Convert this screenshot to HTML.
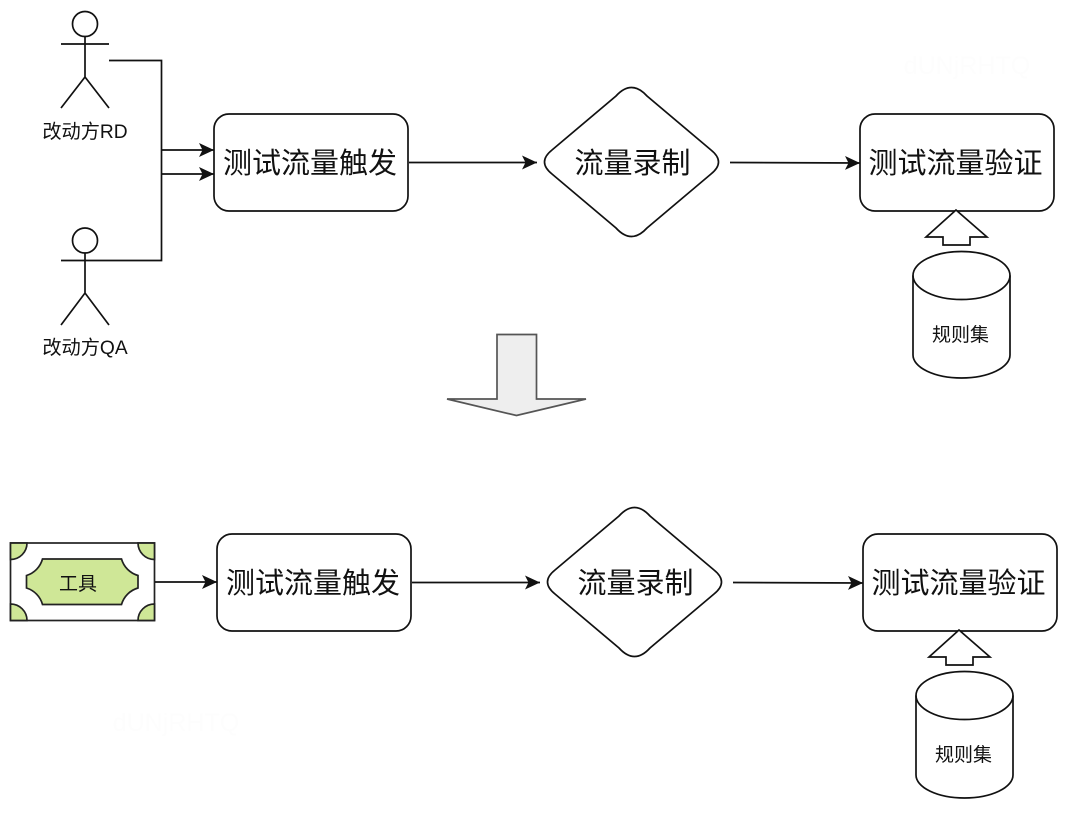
<!DOCTYPE html>
<html><head><meta charset="utf-8"><style>
html,body{margin:0;padding:0;background:#fff}
svg{display:block;filter:blur(.35px)}
text{font-family:"Liberation Sans","Noto Sans CJK SC",sans-serif;fill:#111;text-anchor:middle}
.l{fill:none;stroke:#111;stroke-width:1.7}
.s{fill:#fff;stroke:#111;stroke-width:1.7}
.g{fill:#cfe797;stroke:#222;stroke-width:1.7}
.t{font-size:29px}.m{font-size:19.2px}
.w{font-size:25px;fill:#fdfdfd}
</style></head><body>
<svg width="1080" height="820" viewBox="0 0 1080 820" xmlns="http://www.w3.org/2000/svg">
<defs>
<marker id="a" markerUnits="userSpaceOnUse" markerWidth="16" markerHeight="16" refX="15" refY="7.500" orient="auto"><path d="M0 0.500L15 7.500L0 14.500L3.500 7.500Z" fill="#111"/></marker>
<g id="flow">
<rect class="s" x="214" y="114" width="194" height="97" rx="15"/>
<text class="t" x="310" y="173">测试流量触发</text>
<path class="l" d="M409 162.500H537" marker-end="url(#a)"/>
<path class="s" d="M616 96Q631.500 79 647 96L711 150Q726 162 711 174L647 228Q631.500 245 616 228L552 174Q537 162 552 150Z"/>
<text class="t" x="632.500" y="173">流量录制</text>
<path class="l" d="M730 162.500L860 163" marker-end="url(#a)"/>
<rect class="s" x="860" y="114" width="194" height="97" rx="15"/>
<text class="t" x="955.500" y="173">测试流量验证</text>
<path class="s" d="M956 210L987 237H970V245H943V237H926Z"/>
<path class="s" d="M913 275.500A48.500 24 0 0 1 1010 275.500V355A48.500 23 0 0 1 913 355Z"/>
<path class="l" d="M913 275.500A48.500 24 0 0 0 1010 275.500"/>
<text x="960.500" y="341" font-size="19">规则集</text>
</g>
</defs>

<circle class="l" cx="85" cy="24" r="12.500"/>
<path class="l" d="M85 36.500V77M61 44H109M61 108L85 77L109 108"/>
<text class="m" x="85" y="138">改动方RD</text>
<circle class="l" cx="85" cy="240.500" r="12.500"/>
<path class="l" d="M85 253V293M61 325L85 293L109 325"/>
<text class="m" x="85" y="354">改动方QA</text>

<path class="l" d="M109 60.500H161.500V260.500H61"/>
<path class="l" d="M161.500 150H214" marker-end="url(#a)"/>
<path class="l" d="M161.500 174H214" marker-end="url(#a)"/>

<use href="#flow"/>
<use href="#flow" x="3" y="420"/>

<path d="M497 334.500H536.500V399H586L516.500 415.500L447 399H497Z" fill="#eeeeee" stroke="#555" stroke-width="1.700"/>

<rect x="10.500" y="543" width="144" height="77.500" fill="#fff" stroke="#222" stroke-width="1.700"/>
<path class="g" d="M10.500 543H27A16.500 16.500 0 0 1 10.500 559.500Z"/>
<path class="g" d="M154.500 543H138A16.500 16.500 0 0 0 154.500 559.500Z"/>
<path class="g" d="M10.500 620.500H27A16.500 16.500 0 0 0 10.500 604Z"/>
<path class="g" d="M154.500 620.500H138A16.500 16.500 0 0 1 154.500 604Z"/>
<path class="g" d="M42.500 559H121.500A24 24 0 0 0 138 575.500V588A24 24 0 0 0 121.500 604.500H42.500A24 24 0 0 0 26.500 588V575.500A24 24 0 0 0 42.500 559Z"/>
<text x="78" y="590" font-size="19">工具</text>
<path class="l" d="M155 582H217" marker-end="url(#a)"/>

<text class="w" x="967" y="74">dUNjRHTQ</text>
<text class="w" x="176" y="731">dUNjRHTQ</text>
</svg>
</body></html>
